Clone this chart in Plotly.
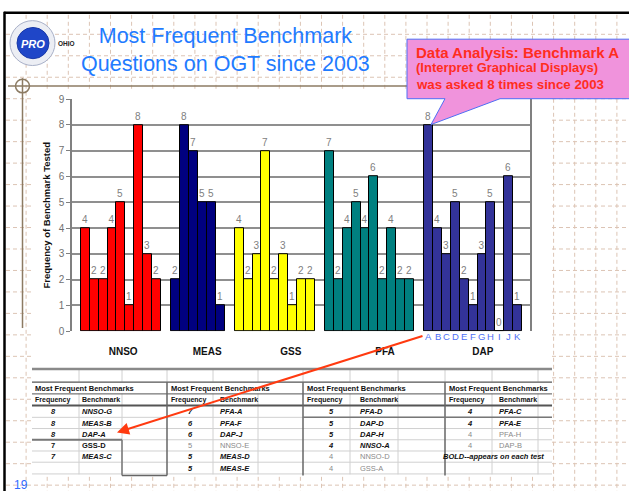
import plotly.graph_objects as go

W, H = 629, 497
FONT = "Liberation Sans, Arial, sans-serif"


def X(p):
    return p / W


def Y(p):
    return 1 - p / H


# ---------------- chart data ----------------
groups = ["NNSO", "MEAS", "GSS", "PFA", "DAP"]
nnso_vals = [4, 2, 2, 4, 5, 1, 8, 3, 2]
meas_vals = [2, 8, 7, 5, 5, 1]
gss_vals = [4, 2, 3, 7, 2, 3, 1, 2, 2]
pfa_vals = [7, 2, 4, 5, 4, 6, 2, 4, 2, 2]
dap_vals = [8, 4, 3, 5, 2, 1, 3, 5, 0, 6, 1]
dap_letters = ["A", "B", "C", "D", "E", "F", "G", "H", "I", "J", "K"]
group_colors = ["#FF0000", "#000080", "#FFFF00", "#008080", "#333399"]
y_ticks = [0, 1, 2, 3, 4, 5, 6, 7, 8, 9]
group_label_pos = [5.75, 15.2, 24.6, 35.2, 46.2]

# ---------------- table data ----------------
t1_freq = ["8", "8", "8", "7", "7"]
t1_bench = ["NNSO-G", "MEAS-B", "DAP-A", "GSS-D", "MEAS-C"]
t1_style = ["bi", "bi", "bi", "b", "bi"]
t2_freq = ["7", "6", "6", "5", "5", "5"]
t2_bench = ["PFA-A", "PFA-F", "DAP-J", "NNSO-E", "MEAS-D", "MEAS-E"]
t2_style = ["bi", "bi", "bi", "g", "bi", "bi"]
t3_freq = ["5", "5", "5", "4", "4", "4"]
t3_bench = ["PFA-D", "DAP-D", "DAP-H", "NNSO-A", "NNSO-D", "GSS-A"]
t3_style = ["bi", "bi", "bi", "bi", "g", "g"]
t4_freq = ["4", "4", "4", "4"]
t4_bench = ["PFA-C", "PFA-E", "PFA-H", "DAP-B"]
t4_style = ["bi", "bi", "g", "g"]
table_note = "BOLD--appears on each test"
table_header = "Most Frequent Benchmarks"
col_freq = "Frequency"
col_bench = "Benchmark"

all_vals = [nnso_vals, meas_vals, gss_vals, pfa_vals, dap_vals]

# build one bar trace for all groups (positions from group sizes)
group_gap = 1.15
start = 1.0
bar_x, bar_y, bar_c = [], [], []
dap_x = []
for name, vals, color in zip(groups, all_vals, group_colors):
    xs = [start + 0.5 + i for i in range(len(vals))]
    bar_x += xs
    bar_y += vals
    bar_c += [color] * len(vals)
    if name == "DAP":
        dap_x = xs
    start += len(vals) + group_gap

fig = go.Figure()
fig.add_trace(go.Bar(
    x=bar_x, y=bar_y, width=1,
    marker=dict(color=bar_c, line=dict(color="#000000", width=1)),
    text=[str(v) for v in bar_y], textposition="outside",
    textangle=0, constraintext="none",
    textfont=dict(color="#808080", size=10, family=FONT),
    cliponaxis=False, showlegend=False, hoverinfo="skip"))

shapes = []
annotations = []


def ann(x, y, text, size, color, xa="center", ya="middle", xref="paper"):
    annotations.append(dict(xref=xref, yref="paper", x=x, y=y, text=text, showarrow=False,
                            xanchor=xa, yanchor=ya,
                            font=dict(family=FONT, size=size, color=color)))


def line(x0, y0, x1, y1, color, width, dash=None, layer="above"):
    d = dict(type="line", xref="paper", yref="paper", x0=X(x0), x1=X(x1), y0=Y(y0), y1=Y(y1),
             line=dict(color=color, width=width), layer=layer)
    if dash:
        d["line"]["dash"] = dash
    shapes.append(d)


# ---------- graph paper dashes ----------
paper_col = "#dcc4b4"
k = 1
while 5 + 21.1 * k < W:
    xx = 5 + 21.1 * k
    line(xx, 9, xx, 497, paper_col, 1, "4px,3px", "below")
    k += 1
yy = 29
while yy < H:
    line(6, yy, 629, yy, paper_col, 1, "4px,3px", "below")
    yy += 22

# white background of the chart + table picture
shapes.append(dict(type="rect", xref="paper", yref="paper", x0=X(32), x1=X(552), y0=Y(85), y1=Y(482),
                   fillcolor="white", line=dict(width=0), layer="below"))

# slide borders
line(4.5, 6, 4.5, 497, "black", 2.5)
line(4, 7, 629, 7, "black", 2.5)

# tan cross-hair lines
tan = "#8C7B63"
line(8, 82, 629, 82, tan, 1.5)
line(22.5, 74, 22.5, 330, tan, 1.5)
shapes.append(dict(type="circle", xref="paper", yref="paper", x0=X(15.5), x1=X(29.5), y0=Y(75), y1=Y(89),
                   line=dict(color=tan, width=1.5)))

# logo
shapes.append(dict(type="circle", xref="paper", yref="paper", x0=X(10), x1=X(55), y0=Y(15), y1=Y(61),
                   fillcolor="#eceef4", line=dict(color="#a8b0c8", width=1)))
shapes.append(dict(type="circle", xref="paper", yref="paper", x0=X(17), x1=X(49), y0=Y(22), y1=Y(54),
                   fillcolor="#1f46c8", line=dict(color="#1a3aa8", width=1)))
ann(X(32.5), Y(38.5), "<b><i>PRO</i></b>", 11, "white")
ann(X(56), Y(38.5), "<b>OHIO</b>", 6.5, "#222222", xa="left")

# title
ann(X(225), Y(45), "Most Frequent Benchmark<br>Questions on OGT since 2003", 21.5, "#1F7BFF")

# ---------- table lines ----------
light = "#d0d0d0"
dark = "#555555"
for xv in [79, 122, 167, 213, 258, 303, 350, 398, 445, 492, 538]:
    line(xv, 372, xv, 385, light, 1)
for xv in [79, 122, 213, 258, 350, 398, 492, 538]:
    line(xv, 397, xv, 480, light, 1)
for yv in [421.5, 433, 444.5, 456, 467.5, 479.5]:
    line(32, yv, 552, yv, light, 1)
line(32, 372, 552, 372, "#8a8a8a", 2.5)
line(32, 385.5, 552, 385.5, dark, 1.2)
line(32, 397.5, 552, 397.5, dark, 1)
line(32, 409.5, 552, 409.5, dark, 2)
for xv in [167, 303, 445]:
    line(xv, 385.5, xv, 481, "#666666", 1.5)
line(32, 444.5, 122, 444.5, "#777777", 2)
line(122, 444.5, 122, 481, "#777777", 1.5)
line(122, 481, 167, 481, "#666666", 1.5)
line(303, 421.5, 552, 421.5, "#777777", 1.5)

# ---------- table text ----------
row_y = [416, 427.5, 439, 450.5, 462, 473.5]
tbl_cols = [(33, 53, 80), (169, 190, 218), (305, 331, 358), (447, 470, 497)]
tbl_data = [(t1_freq, t1_bench, t1_style), (t2_freq, t2_bench, t2_style),
            (t3_freq, t3_bench, t3_style), (t4_freq, t4_bench, t4_style)]


def styled(txt, st):
    if st == "bi":
        return f"<b><i>{txt}</i></b>", "#111111"
    if st == "b":
        return f"<b>{txt}</b>", "#111111"
    return txt, "#8a8a8a"


for (hx, fx, bx), (fr, bn, stl) in zip(tbl_cols, tbl_data):
    ann(X(hx), Y(391.5), f"<b>{table_header}</b>", 7.5, "#111111", xa="left")
    ann(X(hx), Y(403.5), f"<b>{col_freq}</b>", 7, "#111111", xa="left")
    ann(X(bx), Y(403.5), f"<b>{col_bench}</b>", 7, "#111111", xa="left")
    for i, (f, b, s) in enumerate(zip(fr, bn, stl)):
        ft, c = styled(f, s)
        bt, _ = styled(b, s)
        ann(X(fx), Y(row_y[i]), ft, 7.5, c)
        ann(X(bx), Y(row_y[i]), bt, 7.5, c, xa="left")
ann(X(441), Y(row_y[4]), f"<b><i>{table_note}</i></b>", 7.5, "#111111", xa="left")

# ---------- DAP letters ----------
for lx, lt in zip(dap_x, dap_letters):
    ann(lx, Y(338.5), lt, 9.5, "#4d6ff5", xref="x")

# ---------- callout ----------
cpath = (f"M {X(407)},{Y(34)} L {X(632)},{Y(34)} L {X(632)},{Y(95)} L {X(500)},{Y(95)} "
         f"L {X(431)},{Y(121.5)} L {X(445)},{Y(95)} L {X(407)},{Y(95)} Z")
shapes.append(dict(type="path", xref="paper", yref="paper", path=cpath,
                   fillcolor="#F093DC", line=dict(color="#4f6ef5", width=1)))
callout_lines = [("Data Analysis: Benchmark A", 15, 48),
                 ("(Interpret Graphical Displays)", 13, 63.5),
                 ("was asked 8 times since 2003", 13.3, 80)]
for txt, sz, yv in callout_lines:
    ann(X(414), Y(yv), f"<b>{txt}</b>", sz, "#FF2D1E", xa="left")

# ---------- red arrow ----------
annotations.append(dict(xref="paper", yref="paper", x=X(117), y=Y(437), ax=424 - 117, ay=340 - 437,
                        axref="pixel", ayref="pixel", text="", showarrow=True,
                        arrowhead=2, arrowsize=1.2, arrowwidth=2, arrowcolor="#FF3A10", standoff=0))

# slide number
ann(X(12), Y(491), "19", 12, "#2f6bff", xa="left")

fig.update_layout(
    width=W, height=H,
    margin=dict(l=0, r=0, t=0, b=0),
    paper_bgcolor="white", plot_bgcolor="white",
    font=dict(family=FONT),
    bargap=0,
    xaxis=dict(domain=[X(72), X(530)], range=[0, 51.5],
               tickvals=group_label_pos, ticktext=[f"<b>{g}</b>" for g in groups],
               tickfont=dict(size=10, color="#111111", family=FONT),
               ticks="outside", ticklen=11, tickcolor="rgba(0,0,0,0)",
               showgrid=False, zeroline=False, showline=False, fixedrange=True),
    yaxis=dict(domain=[Y(333.3), Y(95.5)], range=[0, 9],
               tickvals=y_ticks, ticktext=[str(t) for t in y_ticks],
               showgrid=True, gridcolor="#8f8f8f", gridwidth=1.5,
               ticks="outside", ticklen=4, tickcolor="#808080",
               tickfont=dict(size=10, color="#707070", family=FONT),
               showline=True, linecolor="#808080", linewidth=1.5, mirror=True,
               zeroline=False, fixedrange=True,
               title=dict(text="<b>Frequency of Benchmark Tested</b>",
                          font=dict(size=9.5, color="#111111", family=FONT), standoff=6)),
    shapes=shapes,
    annotations=annotations,
)

fig.write_html("out.html", config={"displayModeBar": False},
               post_script="document.body.style.margin='0px';")
